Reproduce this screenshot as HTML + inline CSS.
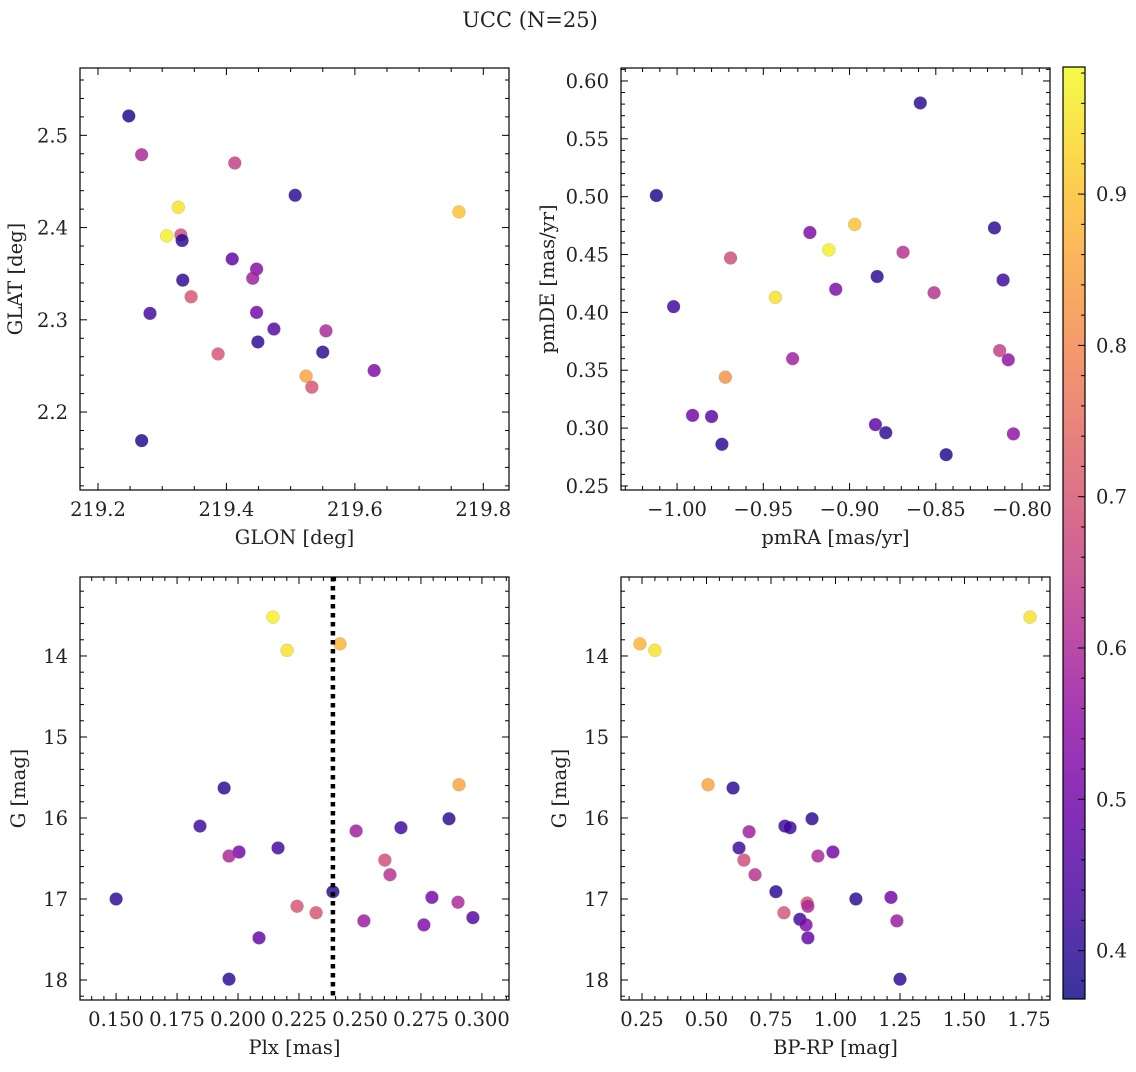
<!DOCTYPE html>
<html><head><meta charset="utf-8"><style>
body{margin:0;background:#fff;}
svg text{font-family:"DejaVu Serif","Liberation Serif",serif;fill:#222;}
</style></head><body>
<svg id="fig" width="1136" height="1067" viewBox="0 0 1136 1067" xmlns="http://www.w3.org/2000/svg">
<text x="530" y="27" font-size="21" text-anchor="middle">UCC (N=25)</text>
</svg>
<script>
// ---- data ----
const glon=[219.248,219.268,219.413,219.325,219.762,219.507,219.307,219.329,219.331,219.409,219.447,219.441,219.332,219.345,219.281,219.447,219.474,219.555,219.449,219.387,219.550,219.524,219.533,219.630,219.268];
const glat=[2.521,2.479,2.470,2.422,2.417,2.435,2.391,2.392,2.386,2.366,2.355,2.345,2.343,2.325,2.307,2.308,2.290,2.288,2.276,2.263,2.265,2.239,2.227,2.245,2.169];
const probA=[0.38,0.6,0.65,0.95,0.9,0.4,0.97,0.68,0.4,0.47,0.53,0.58,0.4,0.7,0.43,0.5,0.45,0.6,0.4,0.7,0.4,0.85,0.7,0.52,0.38];
const pmra=[-0.859,-1.012,-0.897,-0.816,-0.923,-0.912,-0.969,-0.869,-0.884,-0.811,-0.908,-0.851,-0.943,-1.002,-0.813,-0.808,-0.933,-0.972,-0.991,-0.980,-0.885,-0.879,-0.974,-0.805,-0.844];
const pmde=[0.581,0.501,0.476,0.473,0.469,0.454,0.447,0.452,0.431,0.428,0.420,0.417,0.413,0.405,0.367,0.359,0.360,0.344,0.311,0.310,0.303,0.296,0.286,0.295,0.277];
const probB=[0.4,0.38,0.9,0.4,0.52,0.97,0.68,0.62,0.4,0.42,0.52,0.62,0.95,0.42,0.65,0.55,0.58,0.82,0.5,0.46,0.47,0.4,0.4,0.55,0.38];
const plx=[0.2143,0.2201,0.2418,0.2906,0.1943,0.1844,0.2164,0.2865,0.2668,0.2484,0.2602,0.2623,0.2004,0.1963,0.150,0.2242,0.2320,0.2389,0.2516,0.2795,0.2762,0.2902,0.2963,0.2086,0.1963];
const gmagC=[13.52,13.93,13.85,15.59,15.63,16.10,16.37,16.01,16.12,16.16,16.52,16.70,16.42,16.47,17.0,17.09,17.17,16.91,17.27,16.98,17.32,17.04,17.23,17.48,17.99];
const probC=[0.97,0.95,0.88,0.85,0.4,0.42,0.42,0.4,0.42,0.58,0.68,0.62,0.5,0.6,0.4,0.7,0.7,0.4,0.57,0.5,0.52,0.6,0.45,0.48,0.4];
const bprp=[1.754,0.242,0.300,0.506,0.603,0.804,0.824,0.909,0.665,0.626,0.645,0.688,0.990,0.932,0.769,1.079,0.800,0.890,0.893,0.862,0.886,1.215,1.238,0.893,1.250];
const gmagD=[13.52,13.85,13.93,15.59,15.63,16.10,16.12,16.01,16.17,16.37,16.52,16.70,16.42,16.47,16.91,17.0,17.17,17.05,17.09,17.25,17.32,16.98,17.27,17.48,17.99];
const probD=[0.95,0.88,0.95,0.85,0.4,0.42,0.42,0.4,0.58,0.42,0.68,0.62,0.5,0.6,0.4,0.4,0.7,0.7,0.6,0.42,0.52,0.5,0.57,0.48,0.4];
const plxMedian=0.2389;
const cbTicks=[0.4,0.5,0.6,0.7,0.8,0.9];

const NS="http://www.w3.org/2000/svg";
const svg=document.getElementById('fig');
const plasma=[[13,8,135],[65,4,157],[106,0,168],[143,13,164],[177,42,144],[204,71,120],[225,100,98],[242,132,75],[252,166,54],[252,206,37],[240,249,33]];
const vmin=0.368,vmax=0.984;
function cmap(v){let t=(v-vmin)/(vmax-vmin);t=Math.max(0,Math.min(1,t))*10;const i=Math.min(9,Math.floor(t)),f=t-i;const a=plasma[i],b=plasma[i+1];return `rgb(${a.map((c,k)=>Math.round(c+(b[k]-c)*f)).join(',')})`;}
function mk(tag,attrs,parent){const e=document.createElementNS(NS,tag);for(const k in attrs)e.setAttribute(k,attrs[k]);(parent||svg).appendChild(e);return e;}
function fmt(v,d){return (v<0?'\u2212':'')+Math.abs(v).toFixed(d);}
const FS=19.5;

function panel(o){
  const g=mk('g',{});
  
  
  const X=v=>o.x0+(v-o.xmin)/(o.xmax-o.xmin)*(o.x1-o.x0);
  const Y=o.inv?(v=>o.y0+(v-o.ymin)/(o.ymax-o.ymin)*(o.y1-o.y0)):(v=>o.y1-(v-o.ymin)/(o.ymax-o.ymin)*(o.y1-o.y0));
  for(let i=0;i<o.xs.length;i++){
    const c=mk('circle',{cx:X(o.xs[i]),cy:Y(o.ys[i]),r:6.5,fill:cmap(o.cs[i]),'fill-opacity':0.82,stroke:'#888','stroke-width':0.4,'stroke-opacity':0.5},g);
    
    
  }
  if(o.vline!==undefined){
    const l=mk('line',{x1:X(o.vline),x2:X(o.vline),y1:o.y0,y2:o.y1,stroke:'#000','stroke-width':4.5,'stroke-dasharray':'4.5,4.5'},g);
    
    
  }
  const eps=1e-9;
  for(let v=Math.ceil(o.xmin/o.xminor-eps)*o.xminor;v<=o.xmax+eps;v+=o.xminor){
    const px=X(v);const major=Math.abs(v/o.xmajor-Math.round(v/o.xmajor))<1e-6;const L=major?7:4;
    mk('line',{x1:px,x2:px,y1:o.y1,y2:o.y1-L,stroke:'#000','stroke-width':1},g);
    mk('line',{x1:px,x2:px,y1:o.y0,y2:o.y0+L,stroke:'#000','stroke-width':1},g);
    if(major){const t=mk('text',{x:px,y:o.y1+26,'font-size':FS,'text-anchor':'middle'},g);t.textContent=fmt(v,o.xd);
      }
  }
  for(let v=Math.ceil(o.ymin/o.yminor-eps)*o.yminor;v<=o.ymax+eps;v+=o.yminor){
    const py=Y(v);const major=Math.abs(v/o.ymajor-Math.round(v/o.ymajor))<1e-6;const L=major?7:4;
    mk('line',{x1:o.x0,x2:o.x0+L,y1:py,y2:py,stroke:'#000','stroke-width':1},g);
    mk('line',{x1:o.x1,x2:o.x1-L,y1:py,y2:py,stroke:'#000','stroke-width':1},g);
    if(major){const t=mk('text',{x:o.x0-12,y:py+7,'font-size':FS,'text-anchor':'end'},g);t.textContent=fmt(v,o.yd);
      }
  }
  mk('rect',{x:o.x0,y:o.y0,width:o.x1-o.x0,height:o.y1-o.y0,fill:'none',stroke:'#000','stroke-width':1.2},g);
  const xl=mk('text',{x:(o.x0+o.x1)/2,y:o.y1+54,'font-size':FS,'text-anchor':'middle'},g);xl.textContent=o.xlabel;
  
  const yx=o.x0-o.ylo;
  const yl=mk('text',{x:yx,y:(o.y0+o.y1)/2,'font-size':FS,'text-anchor':'middle',transform:`rotate(-90 ${yx} ${(o.y0+o.y1)/2})`},g);yl.textContent=o.ylabel;
  
}

panel({name:'glon-glat-panel',x0:80,x1:509,y0:68,y1:490,xmin:219.172,xmax:219.840,ymin:2.1155,ymax:2.573,xmajor:0.2,xminor:0.05,ymajor:0.1,yminor:0.02,xd:1,yd:1,xs:glon,ys:glat,cs:probA,xlabel:'GLON [deg]',ylabel:'GLAT [deg]',ylo:58});
panel({name:'pm-panel',x0:621,x1:1050,y0:68,y1:490,xmin:-1.0325,xmax:-0.7838,ymin:0.2465,ymax:0.6112,xmajor:0.05,xminor:0.01,ymajor:0.05,yminor:0.01,xd:2,yd:2,xs:pmra,ys:pmde,cs:probB,xlabel:'pmRA [mas/yr]',ylabel:'pmDE [mas/yr]',ylo:67});
panel({name:'plx-g-panel',x0:80,x1:509,y0:577,y1:1000,xmin:0.1352,xmax:0.3111,ymin:13.025,ymax:18.247,inv:true,xmajor:0.025,xminor:0.005,ymajor:1,yminor:0.2,xd:3,yd:0,xs:plx,ys:gmagC,cs:probC,xlabel:'Plx [mas]',ylabel:'G [mag]',ylo:55,vline:plxMedian});
panel({name:'cmd-panel',x0:621,x1:1050,y0:577,y1:1000,xmin:0.1686,xmax:1.8314,ymin:13.025,ymax:18.247,inv:true,xmajor:0.25,xminor:0.05,ymajor:1,yminor:0.2,xd:2,yd:0,xs:bprp,ys:gmagD,cs:probD,xlabel:'BP-RP [mag]',ylabel:'G [mag]',ylo:55});

const cb=mk('g',{});


const defs=mk('defs',{},cb);
const grad=mk('linearGradient',{id:'pl',x1:0,y1:1,x2:0,y2:0},defs);
for(let i=0;i<=20;i++){const v=vmin+(vmax-vmin)*i/20;mk('stop',{offset:i/20,'stop-color':cmap(v),'stop-opacity':0.82},grad);}
const cx0=1063,cx1=1085,cy0=67,cy1=999;
mk('rect',{x:cx0,y:cy0,width:cx1-cx0,height:cy1-cy0,fill:'url(#pl)',stroke:'#000','stroke-width':1.2},cb);
const CY=v=>cy1-(v-vmin)/(vmax-vmin)*(cy1-cy0);
for(let v=0.38;v<=vmax;v+=0.02){const major=Math.abs(v*10-Math.round(v*10))<1e-6;mk('line',{x1:cx1,x2:cx1-(major?7:4),y1:CY(v),y2:CY(v),stroke:'#000','stroke-width':1},cb);}
for(const v of cbTicks){const t=mk('text',{x:cx1+11,y:CY(v)+7,'font-size':FS},cb);t.textContent=v.toFixed(1);
  }
</script>
</body></html>
